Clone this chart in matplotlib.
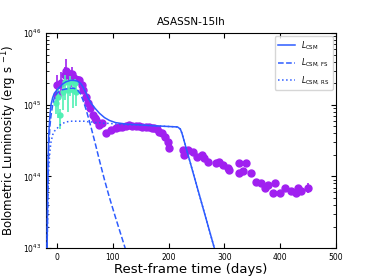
import numpy as np
import matplotlib
matplotlib.use('Agg')
import matplotlib.pyplot as plt

# bolometric light curve (purple)
t_bol = [-1, 0.5, 6.6, 14, 15.6, 24.6, 26, 30.6, 38, 39.6, 44, 45.5, 51.6, 54.5,
         59, 63.5, 68, 69.6, 75.5, 81, 87.6, 96.6, 105.6, 111, 117, 123, 129.5,
         135, 141.5, 147, 153, 159, 165, 170, 174, 179, 183, 188, 193, 198, 201,
         225, 228, 234, 243, 250, 259, 264, 270, 285, 291, 297, 306, 309, 327,
         327, 333, 339, 348, 357, 366, 372, 378, 387, 390, 399, 408, 420, 429,
         432, 438, 450]
logL_bol = [45.14, 45.27, 45.30, 45.41, 45.47, 45.37, 45.43, 45.37, 45.34, 45.34,
            45.27, 45.20, 45.11, 45.02, 44.95, 44.86, 44.81, 44.79, 44.72, 44.74,
            44.60, 44.65, 44.67, 44.69, 44.69, 44.71, 44.72, 44.71, 44.70, 44.70,
            44.69, 44.69, 44.69, 44.68, 44.67, 44.66, 44.62, 44.60, 44.55, 44.48,
            44.40, 44.37, 44.30, 44.37, 44.34, 44.27, 44.30, 44.26, 44.20, 44.19,
            44.20, 44.16, 44.12, 44.09, 44.19, 44.05, 44.08, 44.19, 44.05, 43.92,
            43.91, 43.84, 43.88, 43.77, 43.91, 43.77, 43.84, 43.79, 43.77, 43.84,
            43.79, 43.84]
err_bol = [0.12, 0.14, 0.15, 0.12, 0.17, 0.12, 0.1, 0.08, 0.06, 0.05, 0.04, 0.04,
           0.03, 0.03, 0.03, 0.03, 0.03, 0.03, 0.03, 0.03, 0.03, 0.03, 0.03, 0.03,
           0.03, 0.03, 0.03, 0.03, 0.03, 0.03, 0.03, 0.03, 0.03, 0.03, 0.03, 0.03,
           0.03, 0.03, 0.03, 0.03, 0.03, 0.03, 0.03, 0.03, 0.03, 0.03, 0.03, 0.03,
           0.03, 0.03, 0.03, 0.03, 0.03, 0.03, 0.03, 0.03, 0.03, 0.03, 0.03, 0.03,
           0.03, 0.03, 0.03, 0.03, 0.03, 0.03, 0.03, 0.03, 0.03, 0.03, 0.03, 0.07]

# early points (green)
t_early = [-2.5, 2.4, 4.8, 9.6, 14.4, 18.6, 22.8, 27.6, 32, 33.6]
logL_early = [45.02, 45.11, 44.86, 45.18, 45.32, 45.20, 45.32, 45.20, 45.30, 45.18]
err_early = [0.15, 0.3, 0.2, 0.25, 0.25, 0.3, 0.2, 0.25, 0.15, 0.2]

# CSM model
t_mod = [-18, -16.5, -15, -13, -11, -8, -5, 0, 4, 10, 16, 24, 30, 36, 42, 47, 52,
         56, 61, 68, 76, 85, 94, 105, 124, 145, 166, 190, 216, 221, 224, 282, 290]
logL_csm = [43.0, 44.2, 44.6, 44.85, 45.0, 45.1, 45.16, 45.21, 45.24, 45.29, 45.32,
            45.34, 45.34, 45.33, 45.30, 45.24, 45.16, 45.09, 45.02, 44.95, 44.88,
            44.82, 44.78, 44.75, 44.73, 44.72, 44.71, 44.70, 44.69, 44.66, 44.60,
            43.0, 42.8]
logL_fs = [43.0, 43.9, 44.4, 44.7, 44.85, 45.0, 45.1, 45.16, 45.19, 45.21, 45.22,
           45.23, 45.23, 45.21, 45.15, 45.05, 44.93, 44.82, 44.68, 44.47, 44.22,
           43.95, 43.7, 43.42, 42.95, 42.4, 41.9, 41.3, 40.6, 40.5, 40.4, 39.0, 38.8]
logL_rs = [43.0, 43.8, 44.14, 44.35, 44.48, 44.58, 44.63, 44.67, 44.71, 44.74,
           44.76, 44.77, 44.77, 44.77, 44.77, 44.77, 44.77, 44.76, 44.76, 44.75,
           44.75, 44.74, 44.74, 44.73, 44.72, 44.72, 44.71, 44.70, 44.69, 44.66,
           44.60, 43.0, 42.8]

c_purple = '#a020f0'
c_green = '#50f0b4'
c_blue = '#2d5cff'

fig = plt.figure(figsize=(3.74, 2.8), dpi=100)
ax = fig.add_axes([0.123, 0.114, 0.775, 0.768])

L_bol = 10 ** np.array(logL_bol)
eb = np.array(err_bol)
ax.errorbar(t_bol, L_bol, yerr=[L_bol * (1 - 10 ** -eb), L_bol * (10 ** eb - 1)],
            fmt='o', color=c_purple, ms=5, elinewidth=1.2, capsize=0, zorder=2)

L_e = 10 ** np.array(logL_early)
ee = np.array(err_early)
ax.errorbar(t_early, L_e, yerr=[L_e * (1 - 10 ** -ee), L_e * (10 ** (ee * 0.4) - 1)],
            fmt='o', color=c_green, ms=3.5, elinewidth=1.2, capsize=0, zorder=3)

ax.plot(t_mod, 10 ** np.array(logL_csm), '-', color=c_blue, lw=1.1,
        label=r'$L_{\rm CSM}$', zorder=4)
ax.plot(t_mod, 10 ** np.array(logL_fs), '--', color=c_blue, lw=1.1,
        label=r'$L_{\rm CSM,\,FS}$', zorder=4)
ax.plot(t_mod, 10 ** np.array(logL_rs), ':', color=c_blue, lw=1.1,
        label=r'$L_{\rm CSM,\,RS}$', zorder=4)

ax.set_yscale('log')
ax.set_xlim(-20, 500)
ax.set_ylim(1e43, 1e46)
ax.tick_params(which='both', direction='in', top=True, right=True, labelsize=5.5)
ax.set_title('ASASSN-15lh', fontsize=7.5)
ax.set_xlabel('Rest-frame time (days)', fontsize=9.5, labelpad=1)
ax.set_ylabel(r'Bolometric Luminosity (erg s $^{-1}$)', fontsize=8.5, labelpad=3)
ax.legend(loc='upper right', fontsize=5.5, handlelength=2.3, labelspacing=0.7,
          borderaxespad=0.4)

fig.savefig('out.png', dpi=100)
